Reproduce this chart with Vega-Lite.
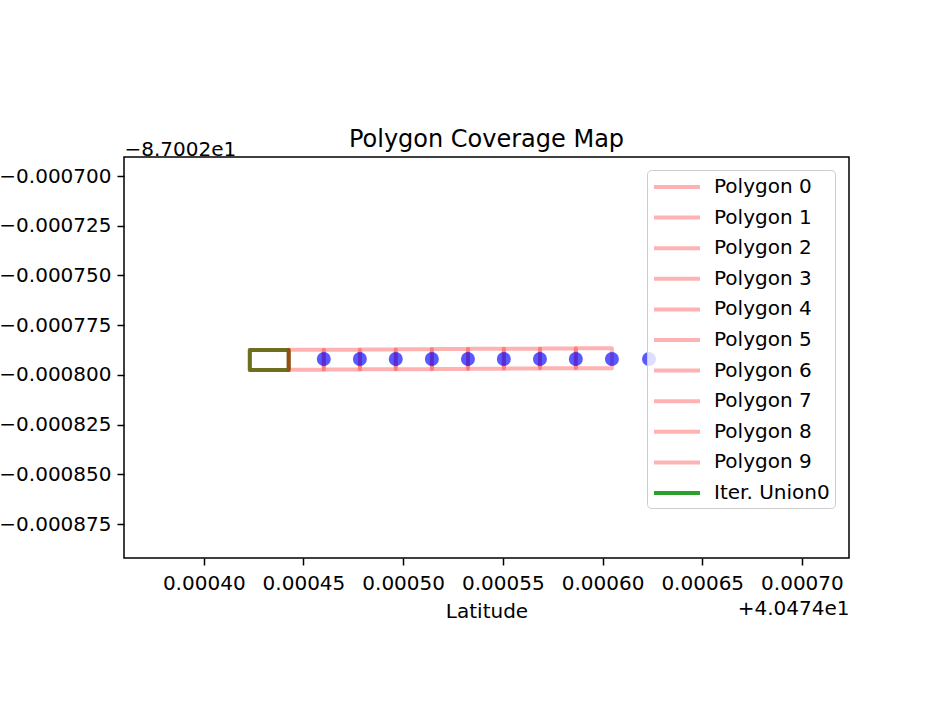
{
  "$schema": "https://vega.github.io/schema/vega-lite/v6.json",
  "autosize": {"type": "none"},
  "width": 725,
  "height": 401,
  "padding": {"left": 124, "top": 157, "right": 87, "bottom": 146},
  "background": "white",
  "config": {
    "view": {"stroke": "black", "strokeWidth": 1.5},
    "font": "DejaVu Sans"
  },
  "title": {
    "text": "Polygon Coverage Map",
    "font": "DejaVu Sans",
    "fontSize": 24,
    "fontWeight": "normal",
    "color": "black",
    "anchor": "middle",
    "frame": "group",
    "baseline": "alphabetic",
    "offset": 4,
    "dy": 36
  },
  "datasets": {
    "union": [
      {"name": "Iter. Union0", "k": 0, "lat": 0.0004231, "lon": -0.0007875},
      {"name": "Iter. Union0", "k": 1, "lat": 0.0004426, "lon": -0.0007875},
      {"name": "Iter. Union0", "k": 2, "lat": 0.0004426, "lon": -0.0007975},
      {"name": "Iter. Union0", "k": 3, "lat": 0.0004231, "lon": -0.0007975},
      {"name": "Iter. Union0", "k": 4, "lat": 0.0004231, "lon": -0.0007875}
    ],
    "polygons": [
      {"name": "Polygon 0", "k": 0, "lat": 0.0004231, "lon": -0.0007875},
      {"name": "Polygon 0", "k": 1, "lat": 0.0004426, "lon": -0.0007875},
      {"name": "Polygon 0", "k": 2, "lat": 0.0004426, "lon": -0.0007975},
      {"name": "Polygon 0", "k": 3, "lat": 0.0004231, "lon": -0.0007975},
      {"name": "Polygon 0", "k": 4, "lat": 0.0004231, "lon": -0.0007875},
      {"name": "Polygon 1", "k": 0, "lat": 0.0004426, "lon": -0.0007874},
      {"name": "Polygon 1", "k": 1, "lat": 0.0004602, "lon": -0.0007874},
      {"name": "Polygon 1", "k": 2, "lat": 0.0004602, "lon": -0.0007974},
      {"name": "Polygon 1", "k": 3, "lat": 0.0004426, "lon": -0.0007974},
      {"name": "Polygon 1", "k": 4, "lat": 0.0004426, "lon": -0.0007874},
      {"name": "Polygon 2", "k": 0, "lat": 0.0004602, "lon": -0.0007873},
      {"name": "Polygon 2", "k": 1, "lat": 0.0004783, "lon": -0.0007873},
      {"name": "Polygon 2", "k": 2, "lat": 0.0004783, "lon": -0.0007973},
      {"name": "Polygon 2", "k": 3, "lat": 0.0004602, "lon": -0.0007973},
      {"name": "Polygon 2", "k": 4, "lat": 0.0004602, "lon": -0.0007873},
      {"name": "Polygon 3", "k": 0, "lat": 0.0004783, "lon": -0.0007872},
      {"name": "Polygon 3", "k": 1, "lat": 0.0004963, "lon": -0.0007872},
      {"name": "Polygon 3", "k": 2, "lat": 0.0004963, "lon": -0.0007972},
      {"name": "Polygon 3", "k": 3, "lat": 0.0004783, "lon": -0.0007972},
      {"name": "Polygon 3", "k": 4, "lat": 0.0004783, "lon": -0.0007872},
      {"name": "Polygon 4", "k": 0, "lat": 0.0004963, "lon": -0.0007871},
      {"name": "Polygon 4", "k": 1, "lat": 0.0005144, "lon": -0.0007871},
      {"name": "Polygon 4", "k": 2, "lat": 0.0005144, "lon": -0.0007971},
      {"name": "Polygon 4", "k": 3, "lat": 0.0004963, "lon": -0.0007971},
      {"name": "Polygon 4", "k": 4, "lat": 0.0004963, "lon": -0.0007871},
      {"name": "Polygon 5", "k": 0, "lat": 0.0005144, "lon": -0.0007870},
      {"name": "Polygon 5", "k": 1, "lat": 0.0005325, "lon": -0.0007870},
      {"name": "Polygon 5", "k": 2, "lat": 0.0005325, "lon": -0.0007970},
      {"name": "Polygon 5", "k": 3, "lat": 0.0005144, "lon": -0.0007970},
      {"name": "Polygon 5", "k": 4, "lat": 0.0005144, "lon": -0.0007870},
      {"name": "Polygon 6", "k": 0, "lat": 0.0005325, "lon": -0.0007869},
      {"name": "Polygon 6", "k": 1, "lat": 0.0005505, "lon": -0.0007869},
      {"name": "Polygon 6", "k": 2, "lat": 0.0005505, "lon": -0.0007969},
      {"name": "Polygon 6", "k": 3, "lat": 0.0005325, "lon": -0.0007969},
      {"name": "Polygon 6", "k": 4, "lat": 0.0005325, "lon": -0.0007869},
      {"name": "Polygon 7", "k": 0, "lat": 0.0005505, "lon": -0.0007868},
      {"name": "Polygon 7", "k": 1, "lat": 0.0005686, "lon": -0.0007868},
      {"name": "Polygon 7", "k": 2, "lat": 0.0005686, "lon": -0.0007968},
      {"name": "Polygon 7", "k": 3, "lat": 0.0005505, "lon": -0.0007968},
      {"name": "Polygon 7", "k": 4, "lat": 0.0005505, "lon": -0.0007868},
      {"name": "Polygon 8", "k": 0, "lat": 0.0005686, "lon": -0.0007867},
      {"name": "Polygon 8", "k": 1, "lat": 0.0005866, "lon": -0.0007867},
      {"name": "Polygon 8", "k": 2, "lat": 0.0005866, "lon": -0.0007967},
      {"name": "Polygon 8", "k": 3, "lat": 0.0005686, "lon": -0.0007967},
      {"name": "Polygon 8", "k": 4, "lat": 0.0005686, "lon": -0.0007867},
      {"name": "Polygon 9", "k": 0, "lat": 0.0005866, "lon": -0.0007866},
      {"name": "Polygon 9", "k": 1, "lat": 0.0006047, "lon": -0.0007866},
      {"name": "Polygon 9", "k": 2, "lat": 0.0006047, "lon": -0.0007966},
      {"name": "Polygon 9", "k": 3, "lat": 0.0005866, "lon": -0.0007966},
      {"name": "Polygon 9", "k": 4, "lat": 0.0005866, "lon": -0.0007866}
    ],
    "points": [
      {"lat": 0.0004602, "lon": -0.0007920},
      {"lat": 0.0004783, "lon": -0.0007920},
      {"lat": 0.0004963, "lon": -0.0007920},
      {"lat": 0.0005144, "lon": -0.0007920},
      {"lat": 0.0005325, "lon": -0.0007920},
      {"lat": 0.0005505, "lon": -0.0007920},
      {"lat": 0.0005686, "lon": -0.0007920},
      {"lat": 0.0005866, "lon": -0.0007920},
      {"lat": 0.0006047, "lon": -0.0007920},
      {"lat": 0.0006233, "lon": -0.0007920}
    ]
  },
  "encoding": {
    "x": {
      "field": "lat",
      "type": "quantitative",
      "scale": {"domain": [0.000360, 0.0007236], "nice": false, "zero": false},
      "axis": {
        "values": [0.0004, 0.00045, 0.0005, 0.00055, 0.0006, 0.00065, 0.0007],
        "format": ".5f",
        "grid": false,
        "domain": false,
        "labelFont": "DejaVu Sans",
        "labelFontSize": 20,
        "labelColor": "black",
        "labelPadding": 8,
        "labelFlush": false,
        "labelOverlap": false,
        "tickColor": "black",
        "tickWidth": 1.5,
        "tickSize": 7,
        "title": "Latitude",
        "titleFont": "DejaVu Sans",
        "titleFontSize": 20,
        "titleFontWeight": "normal",
        "titleColor": "black",
        "titleBaseline": "alphabetic",
        "titleY": 59
      }
    }
  },
  "layer": [
    {
      "encoding": {
        "y": {
          "field": "lon",
          "type": "quantitative",
          "scale": {"domain": [-0.0008921, -0.0006904], "nice": false, "zero": false},
          "axis": {
            "values": [-0.0007, -0.000725, -0.00075, -0.000775, -0.0008, -0.000825, -0.00085, -0.000875],
            "format": ".6f",
            "grid": false,
            "domain": false,
            "labelFont": "DejaVu Sans",
            "labelFontSize": 20,
            "labelColor": "black",
            "labelPadding": 6,
            "labelOverlap": false,
            "labelFlush": false,
            "tickColor": "black",
            "tickWidth": 1.5,
            "tickSize": 7,
            "title": "−8.7002e1",
            "titleFont": "DejaVu Sans",
            "titleFontSize": 20,
            "titleFontWeight": "normal",
            "titleColor": "black",
            "titleAngle": 0,
            "titleAlign": "left",
            "titleBaseline": "alphabetic",
            "titleX": 0,
            "titleY": -2
          }
        },
        "order": {"field": "k", "type": "quantitative"},
        "color": {
          "field": "name",
          "type": "nominal",
          "scale": {
            "domain": ["Polygon 0", "Polygon 1", "Polygon 2", "Polygon 3", "Polygon 4", "Polygon 5", "Polygon 6", "Polygon 7", "Polygon 8", "Polygon 9", "Iter. Union0"],
            "range": ["rgba(255,0,0,0.3)", "rgba(255,0,0,0.3)", "rgba(255,0,0,0.3)", "rgba(255,0,0,0.3)", "rgba(255,0,0,0.3)", "rgba(255,0,0,0.3)", "rgba(255,0,0,0.3)", "rgba(255,0,0,0.3)", "rgba(255,0,0,0.3)", "rgba(255,0,0,0.3)", "#2ca02c"]
          },
          "legend": {
            "title": null,
            "orient": "none",
            "legendX": 523,
            "legendY": 13,
            "symbolType": "M-1,0L3.6,0",
            "symbolSize": 400,
            "symbolStrokeWidth": 4,
            "symbolOpacity": 1,
            "labelFont": "DejaVu Sans",
            "labelFontSize": 20,
            "labelColor": "black",
            "labelOffset": 38,
            "labelLimit": 400,
            "rowPadding": 8.6,
            "padding": 5,
            "fillColor": "rgba(255,255,255,0.8)",
            "strokeColor": "#cccccc",
            "cornerRadius": 4
          }
        }
      },
      "layer": [
        {
          "data": {"name": "union"},
          "mark": {"type": "line", "strokeWidth": 4, "strokeJoin": "round", "strokeCap": "round", "opacity": 1}
        },
        {
          "data": {"name": "polygons"},
          "mark": {"type": "line", "strokeWidth": 4, "strokeJoin": "round", "strokeCap": "round", "opacity": 1}
        }
      ]
    },
    {
      "data": {"name": "points"},
      "mark": {"type": "point", "filled": true, "shape": "circle", "size": 196, "color": "#0000ff", "opacity": 0.65},
      "encoding": {
        "y": {
          "field": "lon",
          "type": "quantitative",
          "scale": {"domain": [-0.0008921, -0.0006904], "nice": false, "zero": false},
          "axis": {
            "orient": "right",
            "labels": false,
            "ticks": false,
            "domain": false,
            "grid": false,
            "title": "+4.0474e1",
            "titleFont": "DejaVu Sans",
            "titleFontSize": 20,
            "titleFontWeight": "normal",
            "titleColor": "black",
            "titleAngle": 0,
            "titleAlign": "right",
            "titleBaseline": "alphabetic",
            "titleX": 0,
            "titleY": 457
          }
        }
      }
    }
  ],
  "resolve": {"scale": {"y": "independent"}}
}
